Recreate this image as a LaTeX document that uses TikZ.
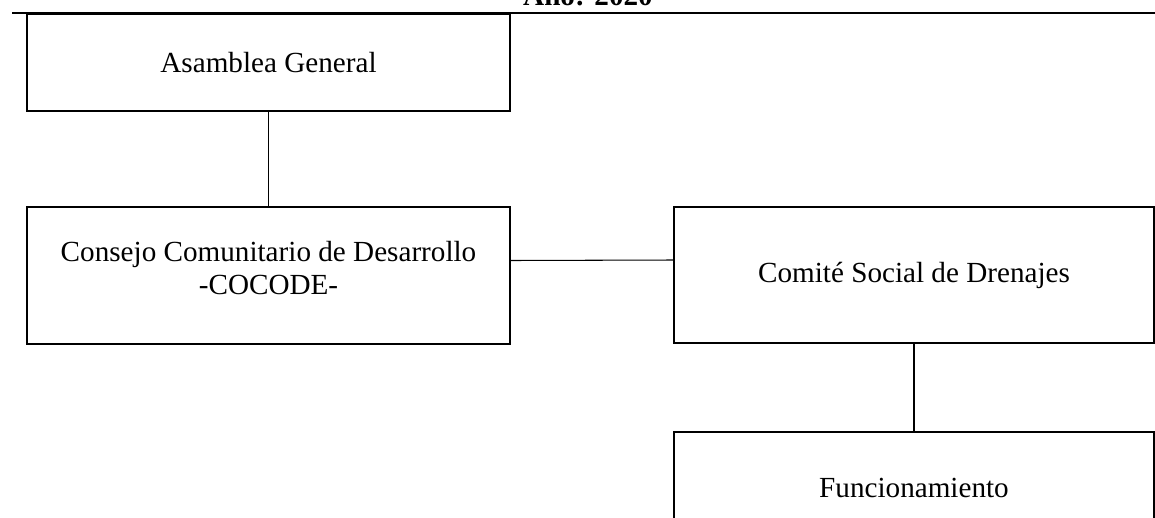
\documentclass[tikz,border=0pt]{standalone}
\usepackage{fontspec}
\setmainfont{Liberation Serif}
\begin{document}
\begin{tikzpicture}[x=0.02cm, y=-0.02cm]
    % Estilos
    \tikzset{caja/.style={draw, line width=0.8pt, inner sep=0pt, align=center, font=\fontsize{16.6}{18.6}\selectfont}}
    \tikzstyle{enlace}=[line width=0.6pt]
    \tikzstyle{titulo}=[font=\fontsize{16.6}{18.6}\selectfont\bfseries, anchor=base, inner sep=0pt]

    % Marco de la pagina
    \useasboundingbox (0,0) rectangle (1155,517);
    \clip (0,0) rectangle (1155,517);

    % Encabezado
    \node[titulo] (anio) at (588,6) {Año: 2020};
    \draw[line width=1.1pt] (12,13) -- (1155,13);

    % Nivel 1
    \node[caja, minimum width=9.66cm, minimum height=1.94cm] (asamblea) at (268.5,62.5) {Asamblea General};

    % Nivel 2
    \node[caja, minimum width=9.66cm, minimum height=2.74cm, text depth=0.3cm] (consejo) at (268.5,275.5) {Consejo Comunitario de Desarrollo\\-COCODE-};
    \node[caja, minimum width=9.6cm, minimum height=2.72cm] (comite) at (914,275) {Comité Social de Drenajes};

    % Nivel 3
    \node[caja, minimum width=9.6cm, minimum height=2.24cm] (funcion) at (914,488) {Funcionamiento};

    % Enlaces
    \draw[enlace] (asamblea) -- (consejo);
    \draw[enlace] ([yshift=0.3cm]consejo.east) -- ([yshift=0.3cm]comite.west);
    \draw[enlace] (comite) -- (funcion);
\end{tikzpicture}
\end{document}
